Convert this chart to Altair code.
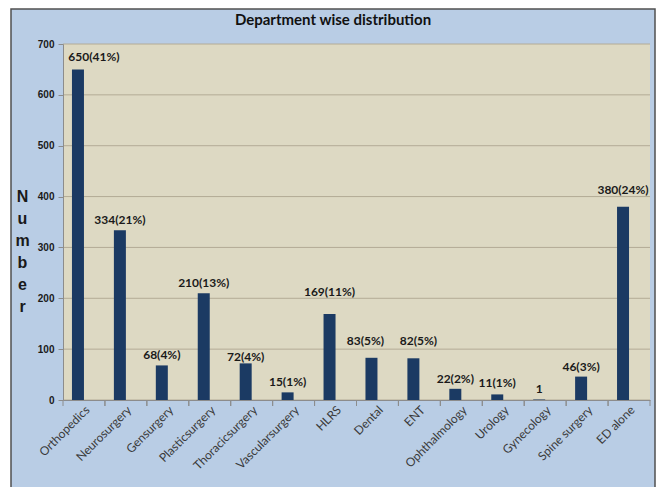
import altair as alt
import pandas as pd

# Patients per department
departments = ["Orthopedics", "Neurosurgery", "Gensurgery", "Plasticsurgery",
               "Thoracicsurgery", "Vascularsurgery", "HLRS", "Dental", "ENT",
               "Ophthalmology", "Urology", "Gynecology", "Spine surgery", "ED alone"]
counts = [650, 334, 68, 210, 72, 15, 169, 83, 82, 22, 11, 1, 46, 380]
labels = ["650(41%)", "334(21%)", "68(4%)", "210(13%)", "72(4%)", "15(1%)",
          "169(11%)", "83(5%)", "82(5%)", "22(2%)", "11(1%)", "1", "46(3%)",
          "380(24%)"]
# Height (in counts) at which each data label sits
label_at = [674, 354, 88, 230, 85, 36, 213, 116, 116, 41, 33, 22, 65, 413]
# Sideways nudge of a few labels, in pixels
label_shift = [16, 0, 0, 0, 0, 0, 0, -6, 5, 0, 0, 0, 0, 0]
grid_values = [0, 100, 200, 300, 400, 500, 600, 700]

W, H = 587, 356
BAR_SHIFT = -6

df = pd.DataFrame({"dept": departments, "count": counts, "label": labels,
                   "label_at": label_at, "shift": label_shift})
grid_df = pd.DataFrame({"v": grid_values})
one = pd.DataFrame({"k": [0]})

x_enc = alt.X("dept:N", sort=departments, title=None,
              scale=alt.Scale(paddingInner=0, paddingOuter=0),
              axis=alt.Axis(labelAngle=-45, labelFont="Lato", labelFontSize=12,
                            labelColor="#3a3a3a", ticks=False, labelPadding=4,
                            domainColor="#8c8c8c", domainWidth=1, zindex=1))
y_scale = alt.Scale(domain=[0, 700], nice=False)

frame = alt.Chart(one).mark_rect(fill="#b9cde5", stroke="#505050",
                                 strokeWidth=1.5).encode(
    x=alt.value(-52), x2=alt.value(W + 5),
    y=alt.value(-35), y2=alt.value(H + 120))

panel = alt.Chart(one).mark_rect(fill="#ddd9c3").encode(
    x=alt.value(0), x2=alt.value(W), y=alt.value(0), y2=alt.value(H))

title = alt.Chart(one).mark_text(
    text="Department wise distribution", font="Lato", fontSize=15,
    fontWeight="bold", color="#111111", baseline="middle", align="center"
).encode(x=alt.value(270), y=alt.value(-24))

grid = alt.Chart(grid_df).mark_rule(color="#b3ab96", strokeWidth=1).encode(
    y=alt.Y("v:Q", scale=y_scale),
    x=alt.value(0), x2=alt.value(W))

bars = alt.Chart(df).mark_bar(width=12, xOffset=BAR_SHIFT, color="#1b3a63").encode(
    x=x_enc,
    y=alt.Y("count:Q", scale=y_scale, title=["N", "u", "m", "b", "e", "r"],
            axis=alt.Axis(values=grid_values, grid=False, tickSize=5,
                          tickColor="#8c8c8c", domainColor="#8c8c8c",
                          labelFont="Liberation Sans", labelFontSize=10,
                          labelFontWeight="bold", labelColor="#1a1a1a",
                          labelPadding=4, titleAngle=0, titleFont="Liberation Sans",
                          titleFontSize=16, titleFontWeight="bold",
                          titleColor="#1a1a1a", titleLineHeight=22,
                          titleAlign="center", titleBaseline="middle",
                          titleX=-41, titleY=152, zindex=1)))

# One text layer per nudge amount
text_layers = []
for s in sorted(set(label_shift)):
    text_layers.append(
        alt.Chart(df).transform_filter(alt.datum.shift == s).mark_text(
            font="Lato", fontSize=12, fontWeight="bold", color="#1a1a1a",
            xOffset=BAR_SHIFT + s).encode(
            x=alt.X("dept:N", sort=departments),
            y=alt.Y("label_at:Q", scale=y_scale),
            text="label:N"))

ticks_left = alt.Chart(df).mark_rule(color="#8c8c8c").encode(
    x=alt.X("dept:N", sort=departments, bandPosition=0),
    y=alt.value(H), y2=alt.value(H + 6))
ticks_right = alt.Chart(df).mark_rule(color="#8c8c8c").encode(
    x=alt.X("dept:N", sort=departments, bandPosition=1),
    y=alt.value(H), y2=alt.value(H + 6))

chart = alt.layer(frame, panel, title, grid, bars, *text_layers,
                  ticks_left, ticks_right).properties(
    width=W, height=H,
    autosize=alt.AutoSizeParams(type="none"),
    padding={"left": 63, "top": 44, "right": 7, "bottom": 87},
    background="#ffffff",
).configure_view(stroke=None)

chart.save("out.html", embed_options={"renderer": "svg", "actions": False})
